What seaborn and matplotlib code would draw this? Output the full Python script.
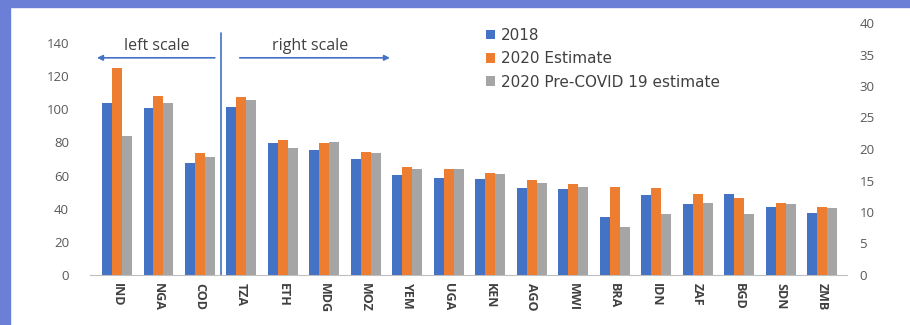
import numpy as np
import pandas as pd
import matplotlib
matplotlib.use("Agg")
import matplotlib.pyplot as plt
import seaborn as sns
from matplotlib.patches import Rectangle

# data (millions of people)
countries = ["IND", "NGA", "COD", "TZA", "ETH", "MDG", "MOZ", "YEM", "UGA",
             "KEN", "AGO", "MWI", "BRA", "IDN", "ZAF", "BGD", "SDN", "ZMB"]
series = ["2018", "2020 Estimate", "2020 Pre-COVID 19 estimate"]
val_2018 = [103.5, 100.5, 67.5, 26.7, 21.0, 19.8, 18.4, 15.9, 15.4,
            15.2, 13.8, 13.7, 9.2, 12.7, 11.3, 12.8, 10.8, 9.9]
val_2020_est = [125.0, 108.0, 73.5, 28.3, 21.4, 21.0, 19.5, 17.1, 16.8,
                16.2, 15.1, 14.4, 14.0, 13.8, 12.8, 12.3, 11.4, 10.8]
val_2020_pre = [84.0, 104.0, 71.0, 27.8, 20.2, 21.1, 19.4, 16.8, 16.8,
                16.0, 14.6, 14.0, 7.6, 9.7, 11.4, 9.7, 11.3, 10.6]
left_countries = ["IND", "NGA", "COD"]

colors = ["#4472C4", "#ED7D31", "#A5A5A5"]

df = pd.DataFrame({
    "country": countries * 3,
    "series": np.repeat(series, len(countries)),
    "value": val_2018 + val_2020_est + val_2020_pre,
})
df_left = df[df["country"].isin(left_countries)]
df_right = df[~df["country"].isin(left_countries)]

sns.set_style("white")
plt.rcParams["font.family"] = ["Open Sans", "DejaVu Sans"]

fig = plt.figure(figsize=(9.1, 3.25), dpi=100)
ax1 = fig.add_axes([90 / 910, 1 - 275 / 325, (847 - 90) / 910, (275 - 23) / 325])
ax2 = ax1.twinx()

sns.barplot(data=df_left, x="country", y="value", hue="series", order=countries,
            hue_order=series, palette=colors, width=0.72, gap=0, ax=ax1,
            saturation=1, linewidth=0, legend=True)
sns.barplot(data=df_right, x="country", y="value", hue="series", order=countries,
            hue_order=series, palette=colors, width=0.72, gap=0, ax=ax2,
            saturation=1, linewidth=0, legend=False)

ax1.set_xlim(-0.65, 17.6)
ax1.set_ylim(0, 152)
ax2.set_ylim(0, 40)
ax1.set_yticks(range(0, 141, 20))
ax2.set_yticks(range(0, 41, 5))
ax1.set_xlabel("")
ax1.set_ylabel("")
ax2.set_ylabel("")

for ax in (ax1, ax2):
    for s in ax.spines.values():
        s.set_visible(False)
    ax.tick_params(length=0, labelsize=9.5, labelcolor="#595959")
ax1.spines["bottom"].set_visible(True)
ax1.spines["bottom"].set_color("#BFBFBF")
ax1.tick_params(axis="y", pad=15)
ax2.tick_params(axis="y", pad=9)
ax1.set_xticks(range(len(countries)))
ax1.set_xticklabels(countries, rotation=-90, fontsize=9, color="#404040",
                    fontweight="bold")
ax1.tick_params(axis="x", pad=6)

# scale markers
ax1.plot([2.5, 2.5], [0, 146], color="#4472C4", lw=1.2, clip_on=False)
ax1.annotate("", xy=(-0.48, 131), xytext=(2.36, 131),
             arrowprops=dict(arrowstyle="-|>", color="#4472C4", lw=1.2,
                             mutation_scale=8, shrinkA=0, shrinkB=0))
ax1.annotate("", xy=(6.58, 131), xytext=(2.96, 131),
             arrowprops=dict(arrowstyle="-|>", color="#4472C4", lw=1.2,
                             mutation_scale=8, shrinkA=0, shrinkB=0))
ax1.text(0.95, 133, "left scale", ha="center", va="bottom", fontsize=11.5,
         color="#404040")
ax1.text(4.65, 133, "right scale", ha="center", va="bottom", fontsize=11.5,
         color="#404040")

# legend
handles, labels = ax1.get_legend_handles_labels()
ax1.legend(handles, labels, loc="upper left", bbox_to_anchor=(472 / 910, 1 - 14 / 325),
           bbox_transform=fig.transFigure, frameon=False,
           prop={"family": "DejaVu Sans", "size": 11},
           handlelength=0.6, handleheight=0.6, handletextpad=0.4, labelspacing=0.55,
           labelcolor="#404040")

# slide frame
fig.patches.append(Rectangle((0, 0), 10 / 910, 1, transform=fig.transFigure,
                             color="#6B7FD7", zorder=0))
fig.patches.append(Rectangle((0, 1 - 7 / 325), 1, 7 / 325, transform=fig.transFigure,
                             color="#6B7FD7", zorder=0))

fig.savefig("out.png", dpi=100)
